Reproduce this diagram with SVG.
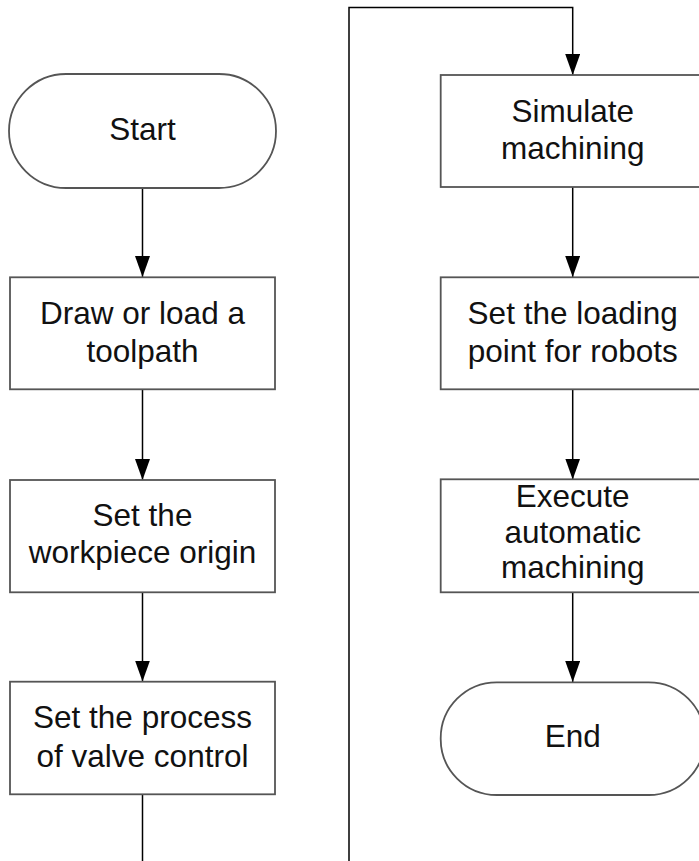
<svg xmlns="http://www.w3.org/2000/svg" width="699" height="861" viewBox="0 0 699 861">
  <style>
    .node { fill: #ffffff; stroke: #555555; stroke-width: 1.8; }
    .lbl { font-family: "Liberation Sans", Arial, sans-serif; font-size: 31.5px; fill: #111111; text-anchor: middle; }
    .conn { fill: none; stroke: #000000; stroke-width: 1.5; }
  </style>
  <defs>
    <marker id="arrow" markerUnits="userSpaceOnUse" markerWidth="21" markerHeight="15" refX="21" refY="7.5" orient="auto" viewBox="0 0 21 15">
      <path d="M0,0 L21,7.5 L0,15 Z" fill="#000000"/>
    </marker>
  </defs>
  <rect width="699" height="861" fill="#ffffff"/>

  <g id="connectors">
    <path class="conn" d="M142.5,188 V277" marker-end="url(#arrow)"/>
    <path class="conn" d="M142.5,389.5 V480" marker-end="url(#arrow)"/>
    <path class="conn" d="M142.5,592.5 V681.5" marker-end="url(#arrow)"/>
    <path class="conn" d="M142.5,794.5 V861"/>
    <path class="conn" d="M349,861 V7.5 H572.7 V75" marker-end="url(#arrow)"/>
    <path class="conn" d="M572.7,187 V277" marker-end="url(#arrow)"/>
    <path class="conn" d="M572.7,389.5 V479.5" marker-end="url(#arrow)"/>
    <path class="conn" d="M572.7,592.5 V682" marker-end="url(#arrow)"/>
  </g>

  <g id="start">
    <rect class="node" x="9" y="74" width="267" height="114" rx="57" ry="57"/>
    <text class="lbl" x="142.5" y="140">Start</text>
  </g>

  <g id="draw-toolpath">
    <rect class="node" x="10" y="277.3" width="265" height="112"/>
    <text class="lbl" x="142.5" y="323.5">Draw or load a</text>
    <text class="lbl" x="142.5" y="361.5">toolpath</text>
  </g>

  <g id="workpiece-origin">
    <rect class="node" x="10" y="480" width="265" height="112.3"/>
    <text class="lbl" x="142.5" y="526">Set the</text>
    <text class="lbl" x="142.5" y="562.7">workpiece origin</text>
  </g>

  <g id="valve-control">
    <rect class="node" x="10" y="681.7" width="265" height="112.6"/>
    <text class="lbl" x="142.5" y="728">Set the process</text>
    <text class="lbl" x="142.5" y="766.5">of valve control</text>
  </g>

  <g id="simulate">
    <rect class="node" x="440.7" y="75" width="264" height="112"/>
    <text class="lbl" x="572.7" y="121.7">Simulate</text>
    <text class="lbl" x="572.7" y="159.3">machining</text>
  </g>

  <g id="loading-point">
    <rect class="node" x="440.7" y="277.3" width="264" height="112"/>
    <text class="lbl" x="572.7" y="324">Set the loading</text>
    <text class="lbl" x="572.7" y="361.7">point for robots</text>
  </g>

  <g id="execute">
    <rect class="node" x="440.7" y="479.3" width="264" height="113"/>
    <text class="lbl" x="572.7" y="506.7">Execute</text>
    <text class="lbl" x="572.7" y="543">automatic</text>
    <text class="lbl" x="572.7" y="578.3">machining</text>
  </g>

  <g id="end">
    <rect class="node" x="440.7" y="682.3" width="264" height="112.7" rx="56" ry="56"/>
    <text class="lbl" x="572.7" y="747.3">End</text>
  </g>
</svg>
